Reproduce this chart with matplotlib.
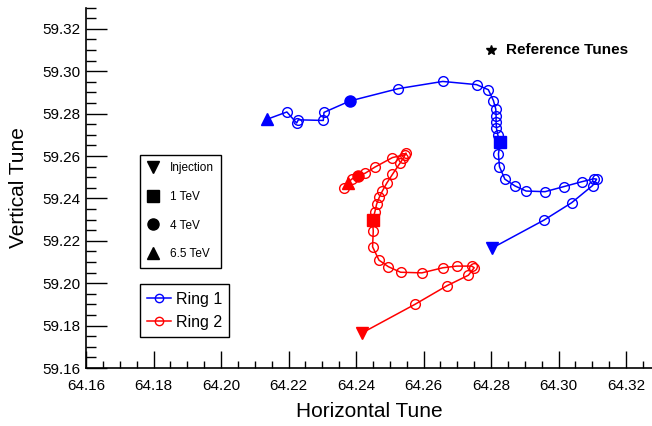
import numpy as np
import matplotlib
matplotlib.use("Agg")
import matplotlib.pyplot as plt
from matplotlib.lines import Line2D
from matplotlib.ticker import MultipleLocator, FormatStrFormatter

plt.rcParams['font.family'] = ['Liberation Sans', 'DejaVu Sans']

# Ring 1 tune path (injection -> flat top)
r1_qh = [64.2802, 64.2957, 64.3039, 64.3101, 64.3113, 64.3105, 64.3069, 64.3016,
         64.2960, 64.2904, 64.2871, 64.2841, 64.2825, 64.2822, 64.2827, 64.2820,
         64.2816, 64.2815, 64.2815, 64.2814, 64.2807, 64.2792, 64.2757, 64.2657,
         64.2525, 64.2382, 64.2305, 64.2303, 64.2229, 64.2224, 64.2195, 64.2137]
r1_qv = [59.2165, 59.2298, 59.2380, 59.2461, 59.2491, 59.2493, 59.2479, 59.2456,
         59.2432, 59.2435, 59.2459, 59.2491, 59.2550, 59.2610, 59.2664, 59.2700,
         59.2732, 59.2763, 59.2791, 59.2822, 59.2862, 59.2913, 59.2937, 59.2952,
         59.2918, 59.2860, 59.2806, 59.2768, 59.2771, 59.2756, 59.2808, 59.2774]
r1_idx = {'inj': 0, '1tev': 14, '4tev': 25, '65tev': 31}

# Ring 2 tune path
r2_qh = [64.2417, 64.2575, 64.2669, 64.2733, 64.2750, 64.2743, 64.2699, 64.2657,
         64.2595, 64.2532, 64.2496, 64.2468, 64.2449, 64.2451, 64.2449, 64.2456,
         64.2461, 64.2469, 64.2478, 64.2491, 64.2508, 64.2530, 64.2540, 64.2548,
         64.2544, 64.2508, 64.2456, 64.2427, 64.2407, 64.2387, 64.2377, 64.2364]
r2_qv = [59.1765, 59.1901, 59.1988, 59.2038, 59.2073, 59.2081, 59.2081, 59.2073,
         59.2049, 59.2052, 59.2078, 59.2109, 59.2172, 59.2246, 59.2298, 59.2338,
         59.2373, 59.2406, 59.2435, 59.2472, 59.2514, 59.2566, 59.2590, 59.2614,
         59.2606, 59.2593, 59.2548, 59.2519, 59.2508, 59.2491, 59.2475, 59.2448]
r2_idx = {'inj': 0, '1tev': 14, '4tev': 28, '65tev': 30}

ref_qh, ref_qv = 64.28, 59.31

fig = plt.figure(figsize=(6.52, 4.26), dpi=100)
ax = fig.add_axes([0.132, 0.136, 0.868, 0.846])

markers = {'inj': 'v', '1tev': 's', '4tev': 'o', '65tev': '^'}
for qh, qv, idx, col in [(r1_qh, r1_qv, r1_idx, 'blue'), (r2_qh, r2_qv, r2_idx, 'red')]:
    qh = np.array(qh)
    qv = np.array(qv)
    special = list(idx.values())
    rest = [i for i in range(len(qh)) if i not in special]
    ax.plot(qh, qv, '-', color=col, lw=1.1, zorder=2)
    ax.plot(qh[rest], qv[rest], 'o', mfc='none', mec=col, ms=7, mew=1.0, zorder=3)
    for k, i in idx.items():
        ax.plot(qh[i], qv[i], markers[k], color=col, ms=8, zorder=4)

ax.plot(ref_qh, ref_qv, '*', color='black', ms=7)
ax.text(ref_qh + 0.0045, ref_qv, 'Reference Tunes', fontsize=11, fontweight='bold',
        va='center', ha='left')

ax.set_xlim(64.16, 64.3277)
ax.set_ylim(59.16, 59.33)
ax.xaxis.set_major_locator(MultipleLocator(0.02))
ax.xaxis.set_minor_locator(MultipleLocator(0.005))
ax.yaxis.set_major_locator(MultipleLocator(0.02))
ax.yaxis.set_minor_locator(MultipleLocator(0.005))
ax.xaxis.set_major_formatter(FormatStrFormatter('%.2f'))
ax.yaxis.set_major_formatter(FormatStrFormatter('%.2f'))
ax.tick_params(which='major', direction='in', labelsize=11)
ax.tick_params(axis='y', which='major', length=15, width=1, pad=4)
ax.tick_params(axis='y', which='minor', direction='in', length=7, width=1)
ax.tick_params(axis='x', which='major', length=12, width=1, pad=8)
ax.tick_params(axis='x', which='minor', direction='in', length=5, width=1)
for s in ['top', 'right']:
    ax.spines[s].set_visible(False)
ax.spines['left'].set_linewidth(1.2)
ax.spines['bottom'].set_linewidth(1.2)

ax.set_xlabel('Horizontal Tune', fontsize=15, labelpad=6)
ax.set_ylabel('Vertical Tune', fontsize=15, labelpad=10)

h1 = [Line2D([], [], ls='none', marker=markers[k], color='black', ms=8)
      for k in ['inj', '1tev', '4tev', '65tev']]
leg1 = ax.legend(h1, ['Injection', '1 TeV', '4 TeV', '6.5 TeV'], loc='upper left',
                 bbox_to_anchor=(0.095, 0.592), borderaxespad=0, fontsize=8.5,
                 labelspacing=1.42, handlelength=1.0, handletextpad=0.9,
                 borderpad=0.62, fancybox=False, edgecolor='black', framealpha=1)
leg1.get_frame().set_linewidth(1.0)
ax.add_artist(leg1)

h2 = [Line2D([], [], color=c, lw=1.1, marker='o', mfc='none', mec=c, ms=6)
      for c in ['blue', 'red']]
leg2 = ax.legend(h2, ['Ring 1', 'Ring 2'], loc='upper left',
                 bbox_to_anchor=(0.095, 0.232), borderaxespad=0, fontsize=11.5,
                 labelspacing=0.5, handlelength=1.5, handletextpad=0.3,
                 borderpad=0.45, fancybox=False, edgecolor='black', framealpha=1)
leg2.get_frame().set_linewidth(1.0)

fig.savefig('out.png', dpi=100)
